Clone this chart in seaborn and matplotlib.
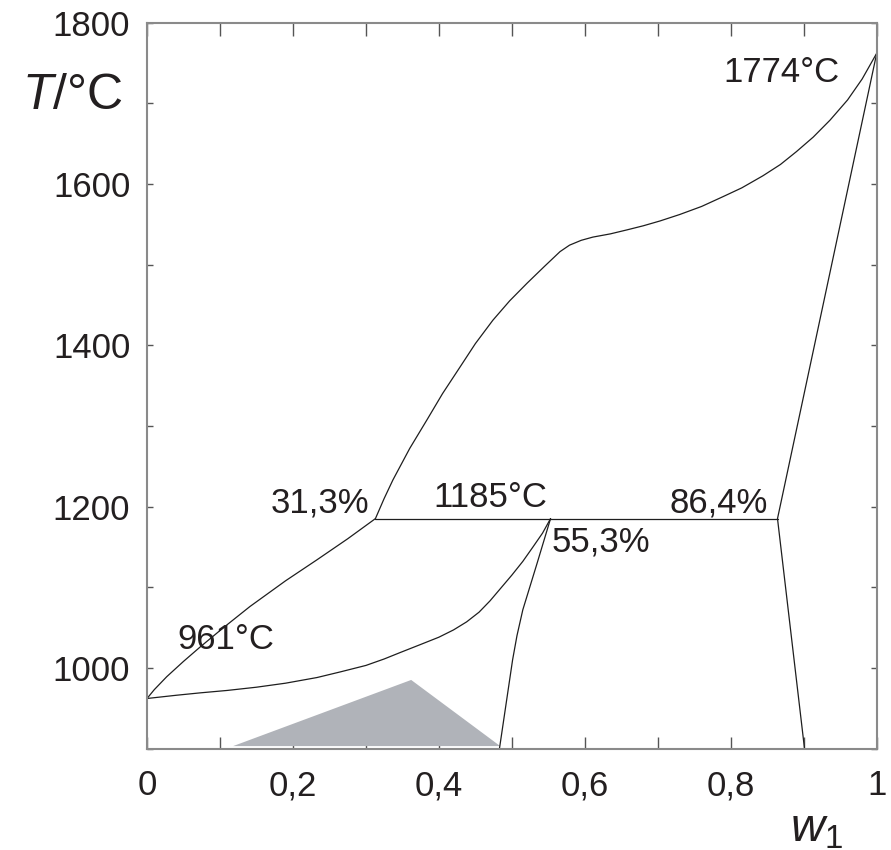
import numpy as np
import pandas as pd
import matplotlib
matplotlib.use("Agg")
import matplotlib.pyplot as plt
import seaborn as sns

# ---- data (w1, T in °C) ----
liq_upper_w = [0.313, 0.325, 0.337, 0.36, 0.384, 0.405, 0.429, 0.45, 0.474, 0.497,
               0.521, 0.545, 0.566, 0.579, 0.595, 0.611, 0.635, 0.658, 0.68, 0.703,
               0.73, 0.76, 0.789, 0.815, 0.844, 0.868, 0.890, 0.913, 0.936, 0.960,
               0.98, 1.0]
liq_upper_T = [1185, 1210, 1233, 1272, 1308, 1340, 1373, 1402, 1431, 1455,
               1477, 1498, 1516, 1524, 1530, 1534, 1538, 1543, 1548, 1554,
               1562, 1572, 1584, 1595, 1610, 1624, 1640, 1658, 1679, 1704,
               1730, 1762]

sol_left_w = [0.0, 0.01, 0.027, 0.05, 0.073, 0.105, 0.141, 0.19, 0.233, 0.275, 0.313]
sol_left_T = [962, 973, 989, 1008, 1026, 1050, 1076, 1108, 1134, 1160, 1185]

liq_lower_w = [0.0, 0.04, 0.073, 0.11, 0.15, 0.19, 0.233, 0.265, 0.30, 0.325, 0.347,
               0.375, 0.40, 0.42, 0.438, 0.455, 0.47, 0.485, 0.50, 0.515, 0.529,
               0.542, 0.553]
liq_lower_T = [962, 966, 969, 972, 976, 981, 988, 995, 1003, 1011, 1019,
               1029, 1038, 1047, 1057, 1069, 1083, 1099, 1115, 1132, 1150,
               1167, 1185]

mid_w = [0.553, 0.534, 0.515, 0.507, 0.501, 0.492, 0.483]
mid_T = [1185, 1128, 1072, 1040, 1010, 955, 900]

eut_w = [0.313, 0.864]
eut_T = [1185, 1185]

sol_right_w = [0.864, 1.0]
sol_right_T = [1185, 1762]

solvus_right_w = [0.864, 0.901]
solvus_right_T = [1185, 900]

tri_w = [0.118, 0.362, 0.484]
tri_T = [903, 985, 903]

x_ticks = [0, 0.2, 0.4, 0.6, 0.8, 1.0]
x_ticklabels = ["0", "0,2", "0,4", "0,6", "0,8", "1"]
y_ticks = [1000, 1200, 1400, 1600, 1800]
y_ticklabels = ["1000", "1200", "1400", "1600", "1800"]

annot_text = ["1774°C", "31,3%", "1185°C", "86,4%", "55,3%", "961°C"]
annot_w = [0.869, 0.237, 0.470, 0.783, 0.622, 0.108]
annot_T = [1726, 1193, 1199, 1193, 1144, 1023]

# ---- style ----
sns.set_style("ticks")
plt.rcParams["font.family"] = ["Liberation Sans", "DejaVu Sans"]
plt.rcParams["mathtext.fontset"] = "custom"
plt.rcParams["mathtext.rm"] = "Liberation Sans"
plt.rcParams["mathtext.it"] = "Liberation Sans:italic"

fig = plt.figure(figsize=(8.91, 8.5), dpi=100)
ax = fig.add_axes([0.165, 0.1194, 0.984 - 0.165, 0.9735 - 0.1194])

line_kw = dict(color="#1e1e1e", linewidth=0.9, sort=False, estimator=None, ax=ax, legend=False)

ax.fill(tri_w, tri_T, color="#b0b3b9", linewidth=0, zorder=1)

curves = [
    (liq_upper_w, liq_upper_T),
    (sol_left_w, sol_left_T),
    (liq_lower_w, liq_lower_T),
    (mid_w, mid_T),
    (eut_w, eut_T),
    (sol_right_w, sol_right_T),
    (solvus_right_w, solvus_right_T),
]
for w, T in curves:
    df = pd.DataFrame({"w": w, "T": T})
    sns.lineplot(data=df, x="w", y="T", **line_kw)

ax.set_xlim(0, 1)
ax.set_ylim(900, 1800)
ax.set_xlabel("")
ax.set_ylabel("")

ax.set_xticks(x_ticks)
ax.set_xticklabels(x_ticklabels)
ax.set_yticks(y_ticks)
ax.set_yticklabels(y_ticklabels)
ax.set_xticks(np.arange(0.1, 1.0, 0.2), minor=True)
ax.set_yticks(np.arange(900, 1800, 200), minor=True)

ax.tick_params(axis="both", which="both", direction="in", top=True, right=True,
               color="#555555", width=1.0)
ax.tick_params(axis="x", which="both", length=9, pad=15, labelsize=25, labelcolor="#231f20")
ax.tick_params(axis="y", which="both", length=4, pad=12, labelsize=25, labelcolor="#231f20")

for sp in ax.spines.values():
    sp.set_color("#8a8a8a")
    sp.set_linewidth(1.5)

for txt, w, T in zip(annot_text, annot_w, annot_T):
    ax.text(w, T, txt, ha="center", va="baseline", fontsize=25, color="#231f20")

ax.text(-0.172, 1693, "$T$/°C", ha="left", va="baseline", fontsize=36,
        color="#231f20", clip_on=False)
ax.text(0.881, 785, "$w_1$", ha="left", va="baseline", fontsize=34,
        color="#231f20", clip_on=False)

fig.savefig("out.png", dpi=100)
